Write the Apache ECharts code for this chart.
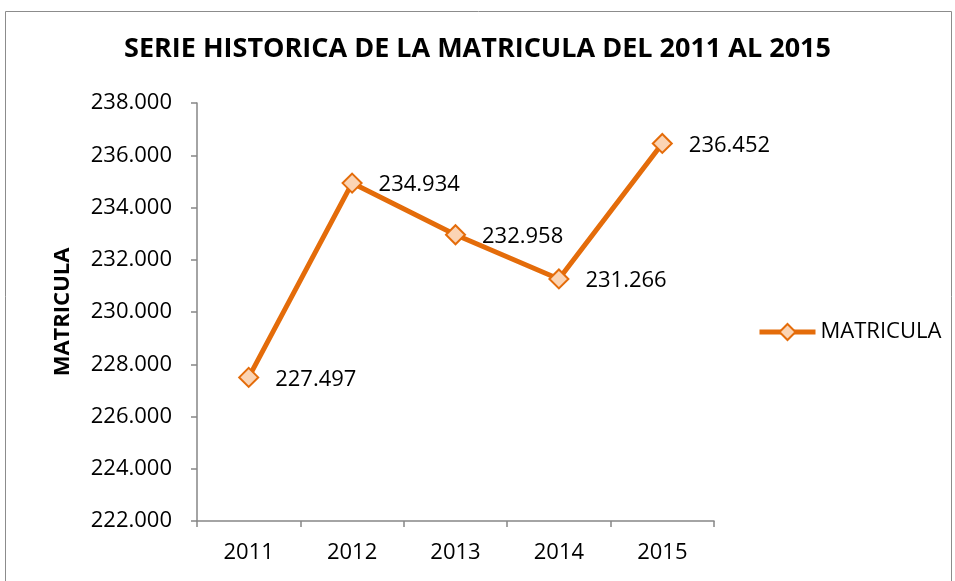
<!DOCTYPE html>
<html>
<head>
<meta charset="utf-8">
<script src="https://cdn.jsdelivr.net/npm/echarts@6/dist/echarts.min.js"></script>
<style>
html,body{margin:0;padding:0;background:#fff;}
#chart{width:955px;height:581px;}
</style>
</head>
<body>
<div id="chart"></div>
<script>
const categories = ['2011', '2012', '2013', '2014', '2015'];
const matricula = [227497, 234934, 232958, 231266, 236452];
const seriesName = 'MATRICULA';
const titleText = 'SERIE HISTORICA DE LA MATRICULA DEL 2011 AL 2015';
const yAxisName = 'MATRICULA';

const FONT = '"Open Sans", "Liberation Sans", sans-serif';
function fmt(v) {
  const s = Math.round(v).toString();
  return s.replace(/\B(?=(\d{3})+(?!\d))/g, '.');
}

const chart = echarts.init(document.getElementById('chart'), null, {renderer: 'canvas'});
chart.setOption({
  animation: false,
  backgroundColor: '#ffffff',
  graphic: [{
    type: 'rect',
    shape: {x: 5.5, y: 11.5, width: 946, height: 620},
    style: {fill: 'none', stroke: '#8c8c8c', lineWidth: 1},
    silent: true
  }],
  title: {
    text: titleText,
    left: 'center',
    top: 31,
    textStyle: {fontFamily: FONT, fontWeight: 'bold', fontSize: 27, color: '#000'}
  },
  legend: {
    data: [seriesName],
    left: 752,
    top: 316,
    itemWidth: 56,
    itemHeight: 20,
    itemGap: 4,
    lineStyle: {width: 5},
    textStyle: {fontFamily: FONT, fontSize: 22, color: '#000'}
  },
  grid: {left: 197, top: 103, right: 241, bottom: 60, containLabel: false},
  xAxis: {
    type: 'category',
    data: categories,
    boundaryGap: true,
    axisLine: {lineStyle: {color: '#868686', width: 1.5}},
    axisTick: {show: true, length: 6, lineStyle: {color: '#868686', width: 1.5}},
    axisLabel: {fontFamily: FONT, fontSize: 22, color: '#000', margin: 21},
    splitLine: {show: false}
  },
  yAxis: {
    type: 'value',
    min: 222000,
    max: 238000,
    interval: 2000,
    name: yAxisName,
    nameLocation: 'middle',
    nameGap: 123,
    nameRotate: 90,
    nameTextStyle: {fontFamily: FONT, fontWeight: 'bold', fontSize: 22, color: '#000'},
    axisLine: {show: true, lineStyle: {color: '#868686', width: 1.5}},
    axisTick: {show: true, length: 6, lineStyle: {color: '#868686', width: 1.5}},
    axisLabel: {fontFamily: FONT, fontSize: 22, color: '#000', margin: 25, formatter: fmt},
    splitLine: {show: false}
  },
  series: [{
    name: seriesName,
    type: 'line',
    data: matricula,
    symbol: 'diamond',
    symbolSize: 19,
    lineStyle: {color: '#E46C0A', width: 5},
    itemStyle: {color: '#FBD4B4', borderColor: '#E46C0A', borderWidth: 2},
    label: {
      show: true,
      position: 'right',
      distance: 16,
      offset: [0, 2],
      fontFamily: FONT,
      fontSize: 22,
      color: '#000',
      formatter: p => fmt(p.value)
    }
  }]
});
</script>
</body>
</html>
